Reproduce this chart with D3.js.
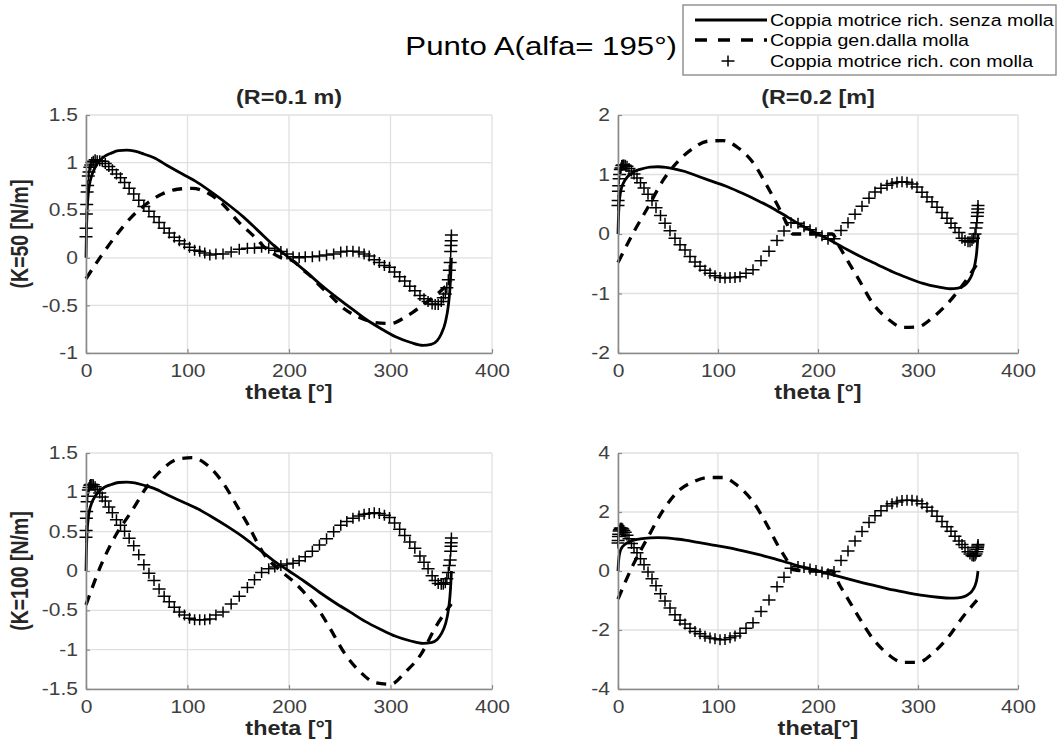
<!DOCTYPE html>
<html>
<head>
<meta charset="utf-8">
<title>Punto A</title>
<script src="https://d3js.org/d3.v7.min.js"></script>
<style>
  body { margin: 0; background: #fff; }
  text { font-family: "Liberation Sans", Arial, sans-serif; }
</style>
</head>
<body>
<svg id="fig" width="1059" height="744"></svg>
<script>
// ---- data ----
const mainTitle = "Punto A(alfa= 195°)";
const legendLabels = ["Coppia motrice rich. senza molla", "Coppia gen.dalla molla", "Coppia motrice rich. con molla"];
const titles = ["(R=0.1 m)", "(R=0.2 [m]", "", ""];
const yLabels = ["(K=50 [N/m]", "", "(K=100 [N/m]", ""];
const xLabels = ["theta [°]", "theta [°]", "theta [°]", "theta[°]"];

const xTicks = [0, 100, 200, 300, 400];
const yTicksTL = [-1, -0.5, 0, 0.5, 1, 1.5];
const yTicksTR = [-2, -1, 0, 1, 2];
const yTicksBL = [-1.5, -1, -0.5, 0, 0.5, 1, 1.5];
const yTicksBR = [-4, -2, 0, 2, 4];

// torque without spring (same in all four panels)
const thetaLine = [0, 0.4, 1.1, 2.3, 3.6, 5.5, 9, 13.5, 19, 25, 32, 40, 48, 57, 67, 80, 95, 110, 125, 140,
  155, 170, 185, 200, 215, 230, 245, 260, 275, 290, 305, 320, 332, 340, 346, 350, 354, 357, 358.6, 359.5, 360];
const torqueNoSpring = [0, 0.25, 0.49, 0.68, 0.78, 0.86, 0.95, 1.02, 1.07, 1.10, 1.125, 1.13, 1.12, 1.09, 1.05, 0.97, 0.88, 0.79, 0.68, 0.56,
  0.43, 0.28, 0.13, 0, -0.13, -0.27, -0.40, -0.52, -0.64, -0.74, -0.83, -0.89, -0.92, -0.91, -0.87, -0.80, -0.68, -0.50, -0.32, -0.14, 0];

// torque from the spring
const thetaSpring = [0, 15, 30, 45, 60, 75, 90, 105, 120, 135, 150, 160, 168, 175, 190, 205, 214, 222, 230, 240, 255, 270, 285, 300, 315, 330, 345, 360];
const springTL = [-0.22, 0.02, 0.24, 0.43, 0.57, 0.67, 0.72, 0.73, 0.68, 0.56, 0.38, 0.28, 0.20, 0.12, 0.01, -0.04, -0.13, -0.20, -0.29, -0.39, -0.54, -0.63, -0.68, -0.69, -0.62, -0.51, -0.39, -0.24];
const springTR = [-0.48, 0.01, 0.45, 0.90, 1.22, 1.44, 1.56, 1.57, 1.45, 1.20, 0.78, 0.47, 0.20, 0, 0, 0, 0, -0.23, -0.46, -0.74, -1.17, -1.43, -1.57, -1.56, -1.40, -1.16, -0.85, -0.48];
const springBL = [-0.43, 0.08, 0.47, 0.76, 1.07, 1.29, 1.42, 1.44, 1.34, 1.12, 0.80, 0.58, 0.38, 0.22, 0.02, -0.14, -0.26, -0.38, -0.51, -0.72, -1.05, -1.28, -1.42, -1.44, -1.28, -1.06, -0.70, -0.42];
const springBR = [-0.95, 0.20, 1.15, 2.05, 2.70, 3.02, 3.17, 3.17, 2.88, 2.35, 1.50, 0.86, 0.42, 0.05, 0, 0, 0, -0.50, -0.95, -1.52, -2.30, -2.82, -3.10, -3.10, -2.78, -2.25, -1.55, -0.95];

// torque with spring (markers)
const thetaMarks = [0, 0.15, 0.4, 0.7, 1.1, 1.6, 2.3, 3, 3.8, 4.7, 5.8, 7.2, 9, 11, 13.5, 16, 19, 22.5, 26, 30,
  34, 38, 42.5, 47, 52, 57, 62, 67, 72, 77, 82, 87, 92, 97, 102, 107, 112, 117, 122, 128,
  135, 143, 151, 159, 166, 173, 180, 186, 192, 198, 204, 210, 216, 223, 230, 237, 244, 251, 257, 263,
  269, 274, 279, 284, 289, 294, 299, 304, 309, 314, 319, 324, 329, 333, 337, 341, 344, 347, 350, 352,
  354, 355.5, 357, 358, 358.8, 359.3, 359.6, 359.8, 360];
const withTL = [0.22, 0.31, 0.46, 0.56, 0.69, 0.76, 0.86, 0.90, 0.95, 0.975, 1.00, 1.015, 1.03, 1.02, 1.02, 1.015, 0.99, 0.96, 0.925, 0.88,
  0.84, 0.79, 0.73, 0.67, 0.605, 0.54, 0.49, 0.43, 0.37, 0.31, 0.26, 0.215, 0.18, 0.145, 0.11, 0.08, 0.07, 0.05, 0.03, 0.04,
  0.04, 0.06, 0.09, 0.10, 0.10, 0.11, 0.10, 0.08, 0.065, 0.04, 0.01, 0.0, 0.01, 0.01, 0.02, 0.03, 0.04, 0.06, 0.07, 0.07,
  0.06, 0.04, 0.02, -0.02, -0.05, -0.08, -0.10, -0.15, -0.20, -0.245, -0.30, -0.345, -0.395, -0.43, -0.46, -0.485, -0.49, -0.49, -0.46, -0.42,
  -0.38, -0.315, -0.23, -0.13, -0.05, 0.065, 0.13, 0.18, 0.24];
const withTR = [0.48, 0.565, 0.72, 0.81, 0.93, 1.0, 1.085, 1.11, 1.15, 1.16, 1.16, 1.155, 1.14, 1.10, 1.06, 1.01, 0.94, 0.86, 0.775, 0.67,
  0.56, 0.44, 0.31, 0.18, 0.055, -0.07, -0.18, -0.27, -0.38, -0.47, -0.54, -0.61, -0.66, -0.70, -0.73, -0.74, -0.73, -0.73, -0.72, -0.66,
  -0.60, -0.45, -0.29, -0.11, 0.05, 0.19, 0.18, 0.12, 0.07, 0.02, -0.03, -0.09, -0.08, 0.06, 0.19, 0.33, 0.465, 0.60, 0.705, 0.77,
  0.82, 0.85, 0.87, 0.88, 0.87, 0.84, 0.79, 0.70, 0.62, 0.54, 0.45, 0.36, 0.265, 0.18, 0.105, 0.025, -0.07, -0.11, -0.13, -0.13,
  -0.11, -0.07, 0.0, 0.10, 0.19, 0.30, 0.36, 0.42, 0.48];
const withBL = [0.43, 0.515, 0.67, 0.755, 0.88, 0.95, 1.03, 1.06, 1.09, 1.10, 1.10, 1.095, 1.07, 1.04, 0.99, 0.94, 0.89, 0.815, 0.74, 0.65,
  0.58, 0.505, 0.415, 0.32, 0.205, 0.08, -0.03, -0.12, -0.23, -0.32, -0.39, -0.46, -0.52, -0.56, -0.60, -0.62, -0.62, -0.62, -0.61, -0.56,
  -0.52, -0.42, -0.32, -0.21, -0.11, -0.02, 0.03, 0.05, 0.07, 0.09, 0.10, 0.13, 0.18, 0.25, 0.33, 0.41, 0.50, 0.58, 0.63, 0.67,
  0.70, 0.72, 0.73, 0.74, 0.73, 0.71, 0.68, 0.61, 0.53, 0.45, 0.37, 0.29, 0.19, 0.11, 0.03, -0.06, -0.12, -0.16, -0.17, -0.17,
  -0.15, -0.10, -0.02, 0.07, 0.14, 0.25, 0.315, 0.36, 0.42];
const withBR = [0.95, 1.03, 1.17, 1.25, 1.36, 1.40, 1.45, 1.45, 1.45, 1.42, 1.375, 1.31, 1.21, 1.09, 0.935, 0.79, 0.62, 0.415, 0.21, -0.03,
  -0.26, -0.50, -0.77, -1.02, -1.25, -1.48, -1.67, -1.80, -1.94, -2.05, -2.13, -2.21, -2.27, -2.30, -2.33, -2.32, -2.26, -2.20, -2.11, -1.94,
  -1.75, -1.37, -0.98, -0.53, -0.21, 0.09, 0.15, 0.12, 0.07, 0.02, -0.03, -0.09, -0.015, 0.36, 0.68, 1.02, 1.34, 1.64, 1.87, 2.04,
  2.20, 2.28, 2.34, 2.39, 2.40, 2.40, 2.37, 2.28, 2.16, 2.03, 1.86, 1.68, 1.50, 1.35, 1.18, 1.02, 0.90, 0.80, 0.65, 0.58,
  0.52, 0.50, 0.52, 0.58, 0.65, 0.74, 0.80, 0.85, 0.90];

// ---- layout ----
const svg = d3.select("#fig");
const TX = 1.2;           // horizontal stretch of the text in the original
const ink = "#000";
const boxes = [
  {x: 86,  y: 115, w: 406, h: 238},
  {x: 618, y: 115, w: 400, h: 238},
  {x: 86,  y: 453, w: 406, h: 236},
  {x: 618, y: 453, w: 400, h: 236}
];
const yTicksAll = [yTicksTL, yTicksTR, yTicksBL, yTicksBR];
const springAll = [springTL, springTR, springBL, springBR];
const withAll = [withTL, withTR, withBL, withBR];

const plusPath = "M-6.5,0H6.5M0,-5.5V5.5";

function stretchedText(g, x, y, str, size, weight, anchor) {
  return g.append("text")
    .attr("transform", `translate(${x},${y}) scale(${TX},1)`)
    .attr("text-anchor", anchor || "middle")
    .attr("font-size", size)
    .attr("font-weight", weight || "normal")
    .attr("fill", "#262626")
    .text(str);
}

function drawPanel(i) {
  const b = boxes[i];
  const yt = yTicksAll[i];
  const g = svg.append("g").attr("transform", `translate(${b.x},${b.y})`);
  const x = d3.scaleLinear().domain([0, 400]).range([0, b.w]);
  const y = d3.scaleLinear().domain([yt[0], yt[yt.length - 1]]).range([b.h, 0]);

  // grid
  g.selectAll(".gx").data(xTicks).enter().append("line")
    .attr("x1", d => x(d)).attr("x2", d => x(d)).attr("y1", 0).attr("y2", b.h)
    .attr("stroke", "#e0e0e0").attr("stroke-width", 1.3);
  g.selectAll(".gy").data(yt).enter().append("line")
    .attr("x1", 0).attr("x2", b.w).attr("y1", d => y(d)).attr("y2", d => y(d))
    .attr("stroke", "#e0e0e0").attr("stroke-width", 1.3);

  // curves
  const line = d3.line().x(d => x(d[0])).y(d => y(d[1])).curve(d3.curveMonotoneX);
  g.append("path").datum(d3.zip(thetaLine, torqueNoSpring))
    .attr("d", line).attr("fill", "none").attr("stroke", ink).attr("stroke-width", 2.8);
  g.append("path").datum(d3.zip(thetaSpring, springAll[i]))
    .attr("d", line).attr("fill", "none").attr("stroke", ink).attr("stroke-width", 3.3)
    .attr("stroke-dasharray", "10,8");
  g.selectAll(".mk").data(d3.zip(thetaMarks, withAll[i])).enter().append("path")
    .attr("transform", d => `translate(${x(d[0])},${y(d[1])})`)
    .attr("d", plusPath).attr("fill", "none").attr("stroke", ink).attr("stroke-width", 1.5);

  // axes
  const ax = g.append("g").attr("transform", `translate(0,${b.h})`)
    .call(d3.axisBottom(x).tickValues(xTicks).tickFormat(d => String(d)).tickSizeInner(-4).tickSizeOuter(0).tickPadding(12));
  const ay = g.append("g")
    .call(d3.axisLeft(y).tickValues(yt).tickFormat(d => String(d)).tickSizeInner(-4).tickSizeOuter(0).tickPadding(6));
  [ax, ay].forEach(a => {
    a.select(".domain").attr("stroke", "#8a8a8a").attr("stroke-width", 1.6);
    a.selectAll(".tick line").attr("stroke", "#8a8a8a").attr("stroke-width", 1.2);
    a.selectAll(".tick text").attr("font-size", 17.5).attr("fill", "#404040")
      .attr("font-family", "Liberation Sans, Arial, sans-serif")
      .attr("transform", `scale(${TX},1)`);
  });
  ay.selectAll(".tick text").attr("x", -8 / TX);

  // labels
  stretchedText(g, b.w / 2, b.h + 46, xLabels[i], 19.5, "bold");
  if (titles[i]) stretchedText(g, b.w / 2, -11, titles[i], 19.5, "bold");
  if (yLabels[i]) {
    g.append("text")
      .attr("transform", `translate(${28 - b.x},${b.h / 2}) scale(${TX},1) rotate(-90)`)
      .attr("text-anchor", "middle").attr("font-size", 19.5).attr("font-weight", "bold")
      .attr("fill", "#262626").text(yLabels[i]);
  }
}

d3.range(4).forEach(drawPanel);

// main title
stretchedText(svg, 677, 55, mainTitle, 26, "normal", "end").attr("fill", "#000");

// legend
const lg = svg.append("g").attr("transform", "translate(683,5)");
lg.append("rect").attr("width", 373).attr("height", 70)
  .attr("fill", "#fff").attr("stroke", "#8c8c8c").attr("stroke-width", 1.4);
const rowY = [15, 35, 56];
lg.append("line").attr("x1", 12).attr("x2", 84).attr("y1", rowY[0]).attr("y2", rowY[0])
  .attr("stroke", ink).attr("stroke-width", 2.8);
lg.append("line").attr("x1", 12).attr("x2", 84).attr("y1", rowY[1]).attr("y2", rowY[1])
  .attr("stroke", ink).attr("stroke-width", 3.3).attr("stroke-dasharray", "12,11");
lg.append("path").attr("transform", `translate(45,${rowY[2]})`).attr("d", plusPath)
  .attr("fill", "none").attr("stroke", ink).attr("stroke-width", 1.5);
legendLabels.forEach((t, k) => {
  stretchedText(lg, 87, rowY[k] + 6, t, 16.3, "normal", "start").attr("fill", "#000");
});
</script>
</body>
</html>
